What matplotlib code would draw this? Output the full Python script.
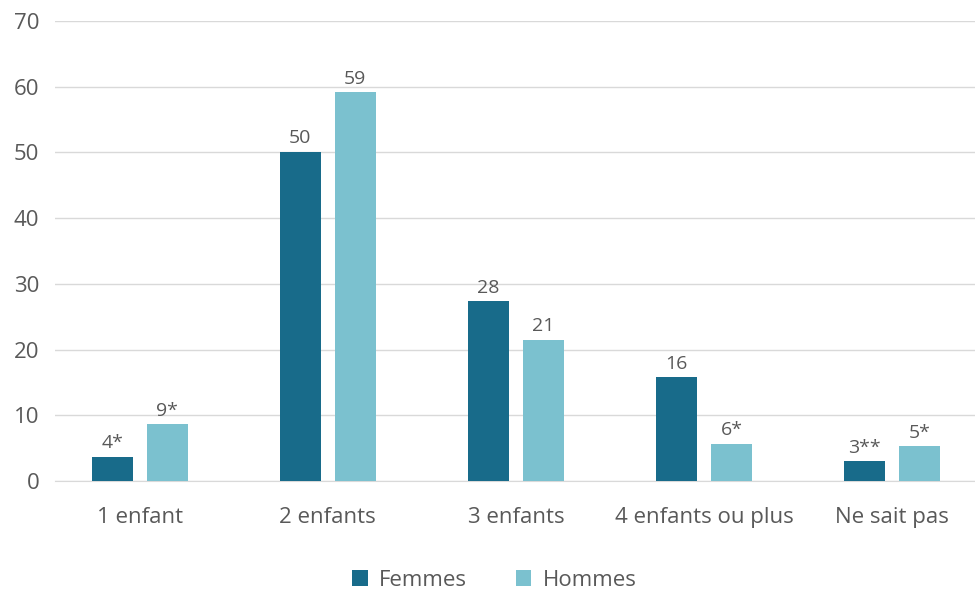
import matplotlib.pyplot as plt
import numpy as np

plt.rcParams['font.family'] = ['Open Sans', 'DejaVu Sans']

categories = ["1 enfant", "2 enfants", "3 enfants", "4 enfants ou plus", "Ne sait pas"]
femmes = [3.7, 50.1, 27.4, 15.8, 3.0]
hommes = [8.7, 59.2, 21.5, 5.7, 5.3]
labels_femmes = ["4*", "50", "28", "16", "3**"]
labels_hommes = ["9*", "59", "21", "6*", "5*"]

fig = plt.figure(figsize=(9.75, 5.96), dpi=100)
ax = fig.add_axes([0.056, 0.193, 0.944, 0.772])

x = np.arange(len(categories))
w = 0.218
gap = 0.074
c_f = "#186b8a"
c_h = "#7bc1cf"
txt = "#595959"

b1 = ax.bar(x - (w + gap) / 2, femmes, w, color=c_f, label="Femmes", zorder=3)
b2 = ax.bar(x + (w + gap) / 2, hommes, w, color=c_h, label="Hommes", zorder=3)
ax.bar_label(b1, labels=labels_femmes, padding=3, color=txt, fontsize=14)
ax.bar_label(b2, labels=labels_hommes, padding=3, color=txt, fontsize=14)

ax.set_ylim(0, 70)
ax.set_yticks(range(0, 71, 10))
ax.set_xlim(-0.452, 4.44)
ax.set_xticks(x)
ax.set_xticklabels(categories)
ax.yaxis.grid(True, color="#d9d9d9", linewidth=1, zorder=0)
ax.tick_params(axis="both", length=0, labelsize=16, colors=txt)
ax.tick_params(axis="x", pad=19)
ax.tick_params(axis="y", pad=11)
for s in ["top", "right", "left"]:
    ax.spines[s].set_visible(False)
ax.spines["bottom"].set_color("#d9d9d9")

fig.legend(loc="lower center", bbox_to_anchor=(0.507, -0.025), ncol=2, frameon=False,
           fontsize=16, labelcolor=txt, handlelength=0.7, handleheight=0.7,
           columnspacing=2.2, handletextpad=0.5)

fig.savefig("out.png")
